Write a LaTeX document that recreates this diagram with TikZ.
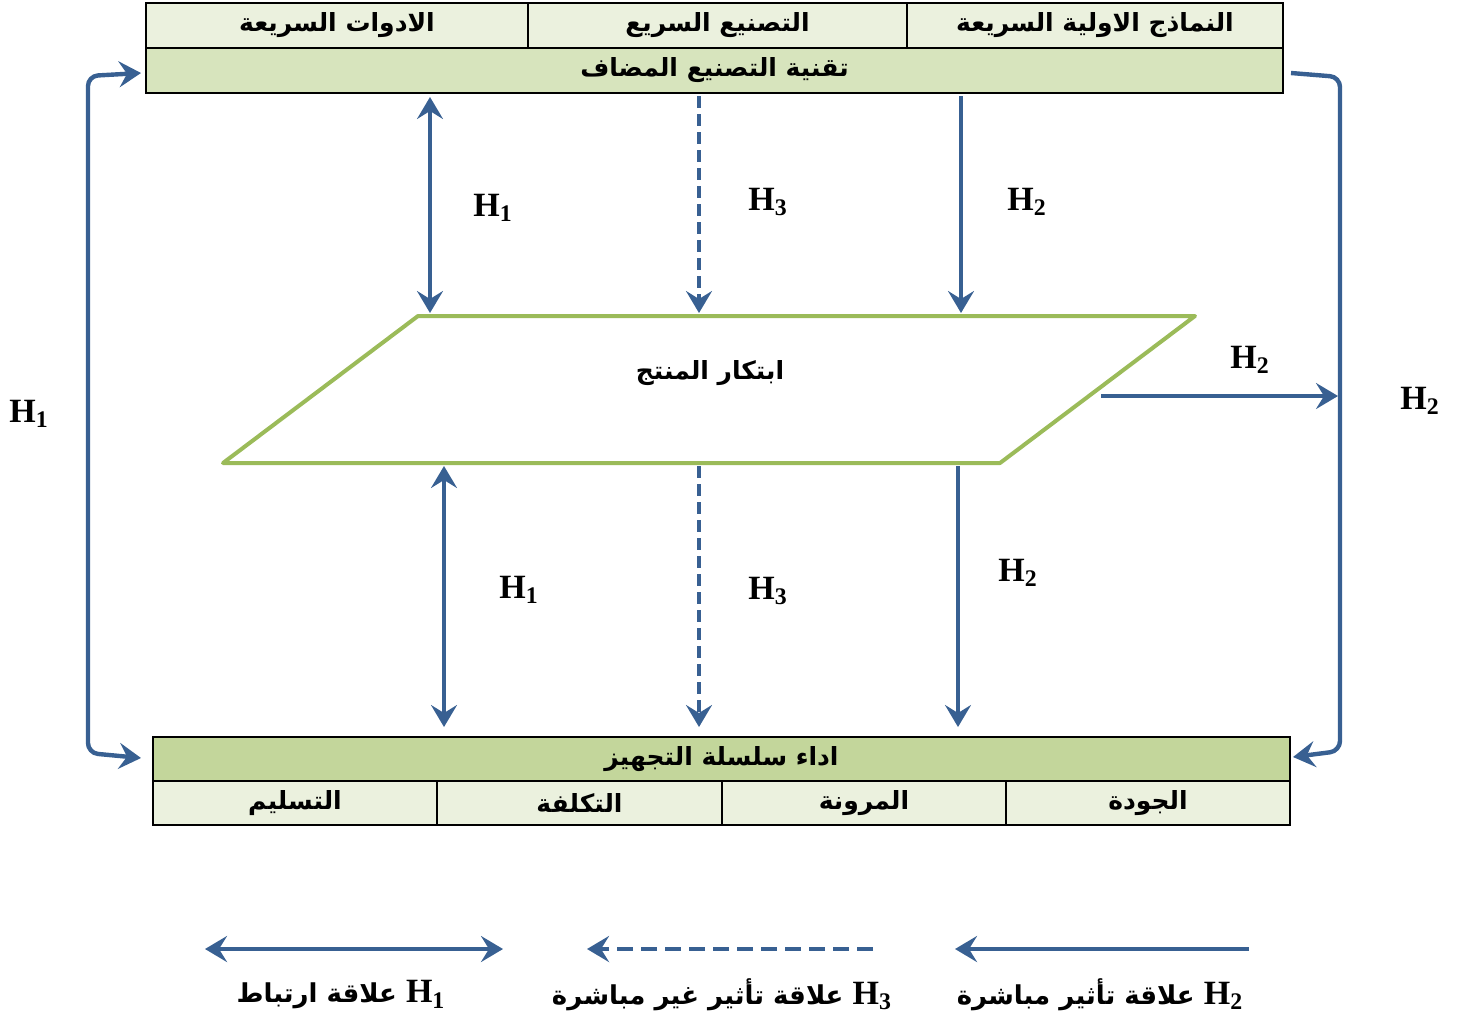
\documentclass[tikz,border=0pt]{standalone}
\usepackage{fontspec}
\usetikzlibrary{arrows.meta}
\TeXXeTstate=1
\setmainfont{Liberation Serif}
\newfontfamily\arabicfont[Script=Arabic]{DejaVu Sans}
\newcommand\ar[1]{{\arabicfont\bfseries\beginR #1\endR}}
\newcommand\hyp[1]{{\rmfamily\bfseries H\textsubscript{#1}}}
\newcommand\bighyp[1]{{\fontsize{17}{19}\selectfont\hyp{#1}}}
\definecolor{arrowblue}{RGB}{56,96,146}
\definecolor{paragreen}{RGB}{155,187,89}
\definecolor{celllight}{RGB}{235,241,222}
\definecolor{cellmid}{RGB}{215,228,189}
\definecolor{celldark}{RGB}{195,214,155}
\begin{document}
\begin{tikzpicture}[x=0.5pt,y=-0.5pt,
  cell/.style={draw=black,line width=1pt,inner sep=0pt,anchor=center,
    font=\fontsize{12.5}{14}\selectfont},
  link/.style={draw=arrowblue,line width=1.6pt},
  tipst/.style={-{Stealth[length=11pt,width=13pt,inset=4pt]}},
  tipboth/.style={{Stealth[length=11pt,width=13pt,inset=4pt]}-{Stealth[length=11pt,width=13pt,inset=4pt]}},
  bracket/.style={draw=arrowblue,line width=2.2pt,rounded corners=5pt},
  hlabel/.style={inner sep=0pt,font=\fontsize{17}{19}\selectfont},
  legend/.style={inner sep=0pt,font=\fontsize{13}{15}\selectfont}]
\useasboundingbox (0,0) rectangle (1459,1018);

% upper table: additive manufacturing and its three branches
\node[cell,fill=celllight,minimum width=191pt,minimum height=22.5pt] (tools) at (337,25.5) {\ar{الادوات السريعة}};
\node[cell,fill=celllight,minimum width=189.5pt,minimum height=22.5pt] (rapidman) at (717.5,25.5) {\ar{التصنيع السريع}};
\node[cell,fill=celllight,minimum width=188pt,minimum height=22.5pt] (proto) at (1095,25.5) {\ar{النماذج الاولية السريعة}};
\node[cell,fill=cellmid,minimum width=568.5pt,minimum height=22.5pt] (amt) at (714.5,70.5) {\ar{تقنية التصنيع المضاف}};

% lower table: supply chain performance and its four dimensions
\node[cell,fill=celldark,minimum width=568.5pt,minimum height=22pt] (scp) at (721.5,759) {\ar{اداء سلسلة التجهيز}};
\node[cell,fill=celllight,minimum width=142pt,minimum height=22pt] (deliv) at (295,803) {\ar{التسليم}};
\node[cell,fill=celllight,minimum width=142.5pt,minimum height=22pt] (cost) at (579.5,803) {\ar{التكلفة}};
\node[cell,fill=celllight,minimum width=142pt,minimum height=22pt] (flex) at (864,803) {\ar{المرونة}};
\node[cell,fill=celllight,minimum width=142pt,minimum height=22pt] (qual) at (1148,803) {\ar{الجودة}};

% product innovation parallelogram
\coordinate (pTL) at (418,316);
\coordinate (pTR) at (1195,316);
\coordinate (pBR) at (1000,463);
\coordinate (pBL) at (223,463);
\draw[paragreen,line width=2pt,line join=round] (pTL) -- (pTR) -- (pBR) -- (pBL) -- cycle;
\node[inner sep=0pt,font=\fontsize{12.5}{14}\selectfont] (innov) at (710,373) {\ar{ابتكار المنتج}};

% arrow end points on the boxes and the parallelogram
\coordinate (a1s) at (430,97);  \coordinate (a1e) at (430,313);
\coordinate (a2s) at (699,96);  \coordinate (a2e) at (699,313);
\coordinate (a3s) at (961,96);  \coordinate (a3e) at (961,313);
\coordinate (b1s) at (444,466); \coordinate (b1e) at (444,727);
\coordinate (b2s) at (699,466); \coordinate (b2e) at (699,727);
\coordinate (b3s) at (958,466); \coordinate (b3e) at (958,727);
\coordinate (hs) at (1101,396); \coordinate (he) at (1338,396);

\draw[link,tipboth] (a1s) -- (a1e);
\draw[link,tipst,dash pattern=on 6pt off 3pt] (a2s) -- (a2e);
\draw[link,tipst] (a3s) -- (a3e);
\draw[link,tipboth] (b1s) -- (b1e);
\draw[link,tipst,dash pattern=on 6pt off 3pt] (b2s) -- (b2e);
\draw[link,tipst] (b3s) -- (b3e);
\draw[link,tipst] (hs) -- (he);

% outer brackets
\coordinate (lt) at (141,73);  \coordinate (lb) at (141,758);
\coordinate (rt) at (1291,73); \coordinate (rb) at (1293,757);
\draw[bracket,tipboth] (lt) -- (88,76) -- (88,753) -- (lb);
\draw[bracket,tipst] (rt) -- (1340,77) -- (1340,751) -- (rb);

% hypothesis labels
\node[hlabel] (h1a) at (493,208) {\hyp{1}};
\node[hlabel] (h3a) at (768,202) {\hyp{3}};
\node[hlabel] (h2a) at (1027,202) {\hyp{2}};
\node[hlabel] (h1b) at (519,590) {\hyp{1}};
\node[hlabel] (h3b) at (768,591) {\hyp{3}};
\node[hlabel] (h2b) at (1018,573) {\hyp{2}};
\node[hlabel] (h2c) at (1250,360) {\hyp{2}};
\node[hlabel] (h2d) at (1420,401) {\hyp{2}};
\node[hlabel] (h1c) at (29,414) {\hyp{1}};

% legend
\coordinate (l1a) at (205,949); \coordinate (l1b) at (503,949);
\coordinate (l3a) at (873,949); \coordinate (l3b) at (587,949);
\coordinate (l2a) at (1249,949); \coordinate (l2b) at (955,949);
\draw[link,line width=2pt,tipboth] (l1a) -- (l1b);
\draw[link,line width=2pt,tipst,dash pattern=on 8pt off 4pt] (l3a) -- (l3b);
\draw[link,line width=2pt,tipst] (l2a) -- (l2b);
\node[legend] (leg1) at (341,995) {\ar{\beginL\bighyp{1}\endL{} علاقة ارتباط}};
\node[legend] (leg3) at (722,995) {\ar{\beginL\bighyp{3}\endL{} علاقة تأثير غير مباشرة}};
\node[legend] (leg2) at (1100,995) {\ar{\beginL\bighyp{2}\endL{} علاقة تأثير مباشرة}};
\end{tikzpicture}
\end{document}
